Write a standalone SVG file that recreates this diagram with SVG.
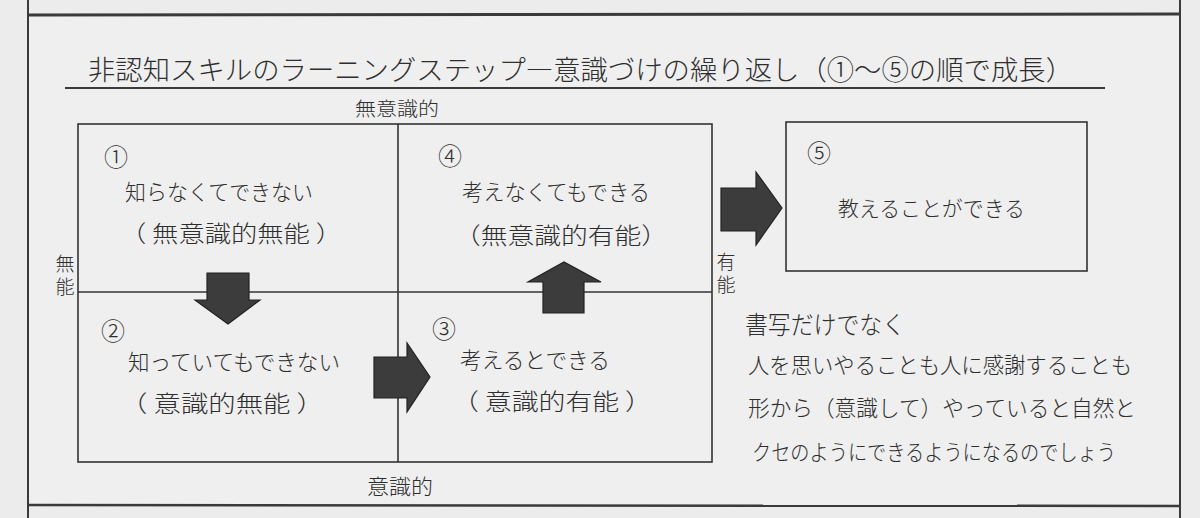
<svg xmlns="http://www.w3.org/2000/svg" width="1200" height="518" viewBox="0 0 1200 518">
  <defs>
    <style>
      .t { font-family: "Noto Sans CJK JP", "Noto Sans", sans-serif; fill: #2e2e2e; font-weight: 300; }
      .v { writing-mode: vertical-rl; letter-spacing: 4px; }
      .frame { stroke: #3a3a3a; fill: none; }
      .grid { stroke: #333; stroke-width: 1.6; fill: none; }
      .arrow { fill: #3c3c3c; stroke: #222; stroke-width: 1.2; stroke-linejoin: miter; }
    </style>
  </defs>
  <rect x="0" y="0" width="1200" height="518" fill="#ececec"/>
  <rect x="28" y="14" width="1152" height="491" fill="#efefef"/>
  <g id="frame">
    <line class="frame" x1="28" y1="0" x2="28" y2="518" stroke-width="2"/>
    <line class="frame" x1="1180" y1="0" x2="1180" y2="518" stroke-width="2"/>
    <line class="frame" x1="28" y1="15" x2="1180" y2="14" stroke-width="3"/>
    <line class="frame" x1="28" y1="505" x2="1180" y2="506" stroke-width="2.5"/>
  </g>
  <g id="title">
    <text class="t" x="88" y="80" font-size="27" textLength="985" lengthAdjust="spacingAndGlyphs">非認知スキルのラーニングステップ―意識づけの繰り返し（①～⑤の順で成長）</text>
    <line class="frame" x1="65" y1="88" x2="1105" y2="88" stroke-width="2"/>
  </g>
  <g id="matrix">
    <rect class="grid" x="78" y="124" width="634" height="338"/>
    <line class="grid" x1="398" y1="124" x2="398" y2="462"/>
    <line class="grid" x1="78" y1="292" x2="712" y2="292"/>
    <text class="t" x="355" y="116" font-size="19" textLength="84" lengthAdjust="spacingAndGlyphs">無意識的</text>
    <text class="t" x="367" y="494" font-size="21" textLength="66" lengthAdjust="spacingAndGlyphs">意識的</text>
    <text class="t v" x="65" y="254" font-size="19">無能</text>
    <text class="t v" x="726" y="252" font-size="19">有能</text>
  </g>
  <g id="q1">
    <text class="t" x="104" y="166" font-size="24">①</text>
    <text class="t" x="125" y="200" font-size="22" textLength="188" lengthAdjust="spacingAndGlyphs">知らなくてできない</text>
    <text class="t" x="120" y="242" font-size="23" textLength="222" lengthAdjust="spacingAndGlyphs">（ 無意識的無能 ）</text>
  </g>
  <g id="q4">
    <text class="t" x="438" y="165" font-size="24">④</text>
    <text class="t" x="462" y="200" font-size="22" textLength="188" lengthAdjust="spacingAndGlyphs">考えなくてもできる</text>
    <text class="t" x="454" y="244" font-size="23" textLength="214" lengthAdjust="spacingAndGlyphs">（無意識的有能）</text>
  </g>
  <g id="q2">
    <text class="t" x="101" y="340" font-size="24">②</text>
    <text class="t" x="128" y="370" font-size="22" textLength="212" lengthAdjust="spacingAndGlyphs">知っていてもできない</text>
    <text class="t" x="120" y="412" font-size="23" textLength="204" lengthAdjust="spacingAndGlyphs">（ 意識的無能 ）</text>
  </g>
  <g id="q3">
    <text class="t" x="432" y="338" font-size="24">③</text>
    <text class="t" x="460" y="368" font-size="22" textLength="150" lengthAdjust="spacingAndGlyphs">考えるとできる</text>
    <text class="t" x="452" y="410" font-size="23" textLength="200" lengthAdjust="spacingAndGlyphs">（ 意識的有能 ）</text>
  </g>
  <g id="step5">
    <rect class="grid" x="786" y="122" width="301" height="149"/>
    <text class="t" x="807" y="162" font-size="24">⑤</text>
    <text class="t" x="838" y="216" font-size="21" textLength="187" lengthAdjust="spacingAndGlyphs">教えることができる</text>
  </g>
  <g id="note">
    <text class="t" x="745" y="334" font-size="25" textLength="160" lengthAdjust="spacingAndGlyphs">書写だけでなく</text>
    <text class="t" x="748" y="373" font-size="22" textLength="384" lengthAdjust="spacingAndGlyphs">人を思いやることも人に感謝することも</text>
    <text class="t" x="748" y="416" font-size="22" textLength="388" lengthAdjust="spacingAndGlyphs">形から（意識して）やっていると自然と</text>
    <text class="t" x="752" y="460" font-size="22" textLength="364" lengthAdjust="spacingAndGlyphs">クセのようにできるようになるのでしょう</text>
  </g>
  <g id="connectors">
    <polygon class="arrow" points="207,273 249,273 249,300 260,300 228,324 195,300 207,300"/>
    <polygon class="arrow" points="374,357 407,357 407,343 430,377 407,412 407,398 374,398"/>
    <polygon class="arrow" points="543,313 543,282 528,282 564,262 601,282 584,282 584,313"/>
    <polygon class="arrow" points="721,188 756,188 756,172 782,208 756,245 756,231 721,231"/>
  </g>
</svg>
